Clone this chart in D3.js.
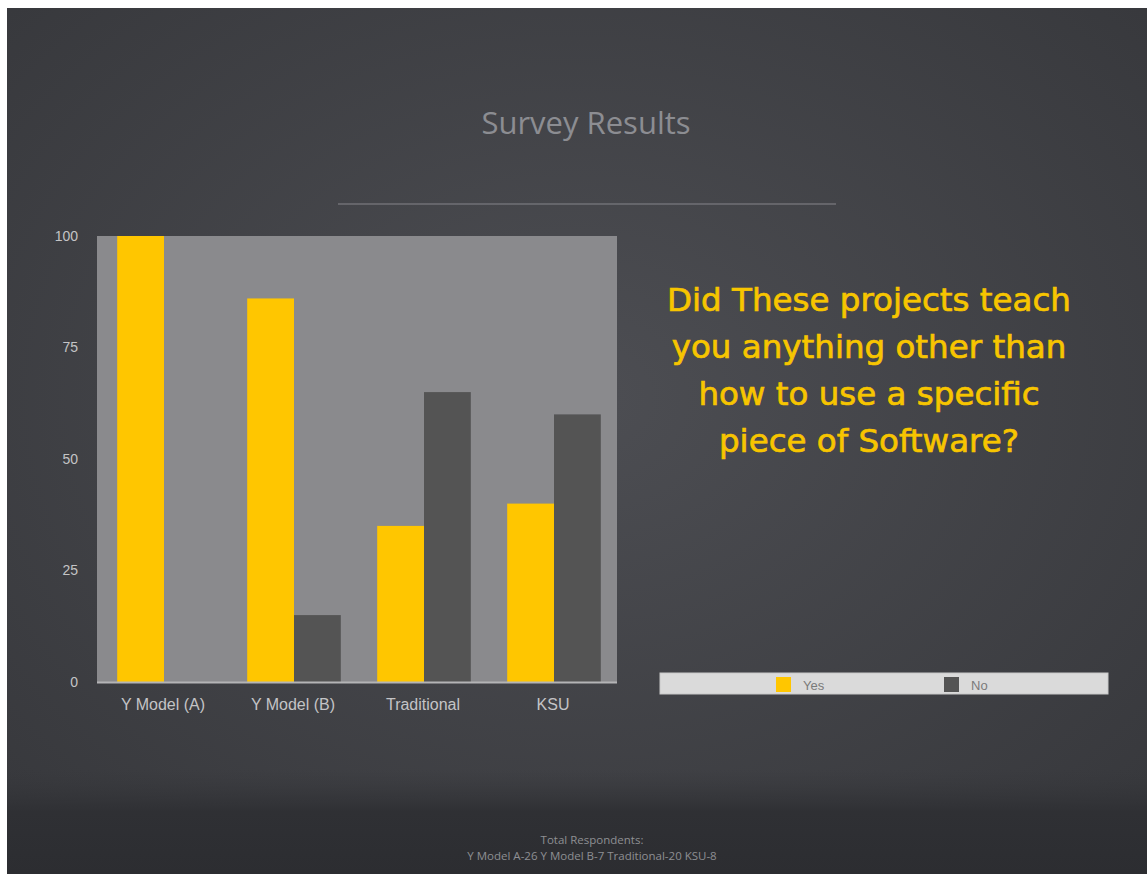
<!DOCTYPE html>
<html>
<head>
<meta charset="utf-8">
<script src="https://cdn.jsdelivr.net/npm/d3@7"></script>
<style>
  body { margin: 0; background: #fff; }
  svg { display: block; }
</style>
</head>
<body>
<div id="chart"></div>
<script>
// survey data
var categories = ["Y Model (A)", "Y Model (B)", "Traditional", "KSU"];
var seriesNames = ["Yes", "No"];
var yesValues = [100, 86, 35, 40];
var noValues = [0, 15, 65, 60];
var yTicks = [0, 25, 50, 75, 100];
var questionLines = ["Did These projects teach", "you anything other than", "how to use a specific", "piece of Software?"];
var footerLines = ["Total Respondents:", "Y Model A-26  Y Model B-7 Traditional-20 KSU-8"];

var W = 1147, H = 874;
var colors = { Yes: "#ffc600", No: "#545454" };

var svg = d3.select("#chart").append("svg").attr("width", W).attr("height", H);
var defs = svg.append("defs");

// slide background: dark charcoal, a bit lighter in the middle
var rg = defs.append("radialGradient").attr("id", "bg")
    .attr("cx", "50%").attr("cy", "45%").attr("r", "70%");
rg.append("stop").attr("offset", "0%").attr("stop-color", "#4d4e53");
rg.append("stop").attr("offset", "100%").attr("stop-color", "#37383c");

var lg = defs.append("linearGradient").attr("id", "foot")
    .attr("x1", 0).attr("y1", 0).attr("x2", 0).attr("y2", 1);
lg.append("stop").attr("offset", "0%").attr("stop-color", "#36373b").attr("stop-opacity", 0);
lg.append("stop").attr("offset", "40%").attr("stop-color", "#2f3034").attr("stop-opacity", 1);
lg.append("stop").attr("offset", "100%").attr("stop-color", "#2c2d31").attr("stop-opacity", 1);

svg.append("rect").attr("x", 7).attr("y", 8).attr("width", W - 7).attr("height", H - 8)
    .attr("fill", "url(#bg)");
svg.append("rect").attr("x", 7).attr("y", 770).attr("width", W - 7).attr("height", H - 770)
    .attr("fill", "url(#foot)");

// title + rule
svg.append("text").attr("x", 586).attr("y", 134)
    .attr("text-anchor", "middle")
    .style("font-family", "'Open Sans', sans-serif")
    .style("font-size", "31px")
    .attr("fill", "#8c8d92")
    .text("Survey Results");
svg.append("line").attr("x1", 338).attr("x2", 836).attr("y1", 204).attr("y2", 204)
    .attr("stroke", "#707176").attr("stroke-width", 1.5);

// chart area
var plot = { left: 97, top: 236, right: 617, bottom: 682 };

var x0 = d3.scaleBand().domain(categories)
    .range([plot.left, plot.right]).paddingInner(0.28).paddingOuter(0.14);
var x1 = d3.scaleBand().domain(seriesNames).range([0, x0.bandwidth()]);
var y = d3.scaleLinear().domain([0, 100]).range([plot.bottom, plot.top]);

var g = svg.append("g");

g.append("rect")
    .attr("x", plot.left).attr("y", plot.top)
    .attr("width", plot.right - plot.left).attr("height", plot.bottom - plot.top)
    .attr("fill", "#8a8a8d");

var rows = categories.map(function(c, i) {
    return { cat: c, values: [{ key: "Yes", v: yesValues[i] }, { key: "No", v: noValues[i] }] };
});

g.selectAll("g.grp").data(rows).enter().append("g").attr("class", "grp")
    .attr("transform", function(d) { return "translate(" + (x0(d.cat) + 2) + ",0)"; })
  .selectAll("rect").data(function(d) { return d.values.filter(function(e) { return e.v > 0; }); })
  .enter().append("rect")
    .attr("x", function(d) { return x1(d.key); })
    .attr("y", function(d) { return y(d.v); })
    .attr("width", x1.bandwidth())
    .attr("height", function(d) { return y(0) - y(d.v); })
    .attr("fill", function(d) { return colors[d.key]; });

// x axis line
g.append("line").attr("x1", plot.left).attr("x2", plot.right)
    .attr("y1", plot.bottom + 0.5).attr("y2", plot.bottom + 0.5)
    .attr("stroke", "#b4b4b6").attr("stroke-width", 2);

// y axis
var yAxis = g.append("g")
    .attr("transform", "translate(" + (plot.left - 19) + ",0)")
    .call(d3.axisLeft(y).tickValues(yTicks).tickSize(0).tickPadding(0));
yAxis.select(".domain").remove();
yAxis.selectAll("text")
    .style("font-family", "'Liberation Sans', Arial, sans-serif")
    .style("font-size", "14px")
    .attr("fill", "#c4c4c6");

// x axis labels
var xAxis = g.append("g")
    .attr("transform", "translate(1," + plot.bottom + ")")
    .call(d3.axisBottom(x0).tickSize(0).tickPadding(17));
xAxis.select(".domain").remove();
xAxis.selectAll("text")
    .style("font-family", "'Liberation Sans', Arial, sans-serif")
    .style("font-size", "16px")
    .attr("fill", "#c4c4c6");

// question text
svg.append("g").selectAll("text").data(questionLines).enter().append("text")
    .attr("x", 869)
    .attr("y", function(d, i) { return 311 + i * 47; })
    .attr("text-anchor", "middle")
    .style("font-family", "'DejaVu Sans', Verdana, sans-serif")
    .style("font-size", "32.5px")
    .attr("fill", "#f7c500")
    .attr("stroke", "#f7c500")
    .attr("stroke-width", 0.7)
    .text(function(d) { return d; });

// legend
var leg = svg.append("g");
leg.append("rect").attr("x", 660).attr("y", 673).attr("width", 448).attr("height", 21)
    .attr("fill", "#dadada").attr("stroke", "#c8c8c8");
var legX = [776, 944];
var items = leg.selectAll("g").data(seriesNames).enter().append("g")
    .attr("transform", function(d, i) { return "translate(" + legX[i] + ",677)"; });
items.append("rect").attr("width", 15).attr("height", 15)
    .attr("fill", function(d) { return colors[d]; });
items.append("text").attr("x", 27).attr("y", 12.5)
    .style("font-family", "'Liberation Sans', Arial, sans-serif")
    .style("font-size", "13px")
    .attr("fill", "#7a7a7a")
    .text(function(d) { return d; });

// footer
svg.append("g").selectAll("text").data(footerLines).enter().append("text")
    .attr("x", 592)
    .attr("y", function(d, i) { return 844 + i * 16; })
    .attr("text-anchor", "middle")
    .style("font-family", "'Open Sans', sans-serif")
    .style("font-size", "11.5px")
    .attr("fill", "#8e8f93")
    .text(function(d) { return d; });
</script>
</body>
</html>
